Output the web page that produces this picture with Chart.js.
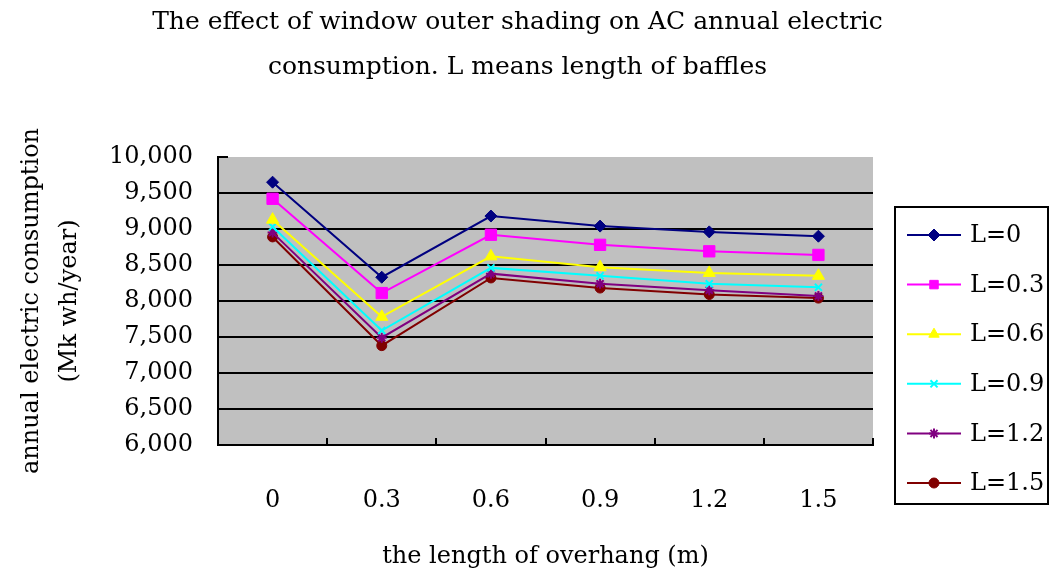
<!DOCTYPE html>
<html>
<head>
<meta charset="utf-8">
<title>Window outer shading vs AC consumption</title>
<script src="https://cdn.jsdelivr.net/npm/chart.js@4/dist/chart.umd.min.js"></script>
<style>
  html, body { margin: 0; padding: 0; background: #fff; }
  #wrap { width: 1049px; height: 575px; }
</style>
</head>
<body>
<div id="wrap"><canvas id="shadingChart" width="1049" height="575"></canvas></div>
<script>
// overhang lengths (m) along the x axis
const overhangs = ['0', '0.3', '0.6', '0.9', '1.2', '1.5'];

// annual consumption per baffle length L
const baffleL0  = [9650, 8330, 9180, 9040, 8960, 8900];
const baffleL03 = [9420, 8110, 8920, 8780, 8690, 8640];
const baffleL06 = [9130, 7780, 8620, 8470, 8390, 8350];
const baffleL09 = [9030, 7590, 8460, 8350, 8240, 8190];
const baffleL12 = [8950, 7490, 8380, 8240, 8150, 8070];
const baffleL15 = [8890, 7380, 8320, 8180, 8090, 8040];

const seriesNames = ['L=0', 'L=0.3', 'L=0.6', 'L=0.9', 'L=1.2', 'L=1.5'];

// y axis range
const yMin = 6000;
const yMax = 10000;
const yStep = 500;

const FONT = 'DejaVu Serif, serif';
const FSIZE = 24;

const styles = [
  { color: '#000080', point: 'rectRot', radius: 6, bw: 1 },
  { color: '#ff00ff', point: 'rect', radius: 8, bw: 1 },
  { color: '#ffff00', point: 'triangle', radius: 7, bw: 1 },
  { color: '#00ffff', point: 'crossRot', radius: 5, bw: 2 },
  { color: '#800080', point: 'star', radius: 5, bw: 2 },
  { color: '#800000', point: 'circle', radius: 5, bw: 1 }
];

const seriesData = [baffleL0, baffleL03, baffleL06, baffleL09, baffleL12, baffleL15];

const datasets = seriesData.map((vals, i) => ({
  label: seriesNames[i],
  data: vals,
  borderColor: styles[i].color,
  backgroundColor: styles[i].color,
  borderWidth: 2,
  tension: 0,
  pointStyle: styles[i].point,
  pointRadius: styles[i].radius,
  pointBorderWidth: styles[i].bw,
  pointBackgroundColor: styles[i].color,
  pointBorderColor: styles[i].color
}));

// grey plot background
const plotBg = {
  id: 'plotBg',
  beforeDraw(chart) {
    const { ctx, chartArea: a } = chart;
    ctx.save();
    ctx.fillStyle = '#c0c0c0';
    ctx.fillRect(a.left, a.top, a.right - a.left, a.bottom - a.top);
    ctx.restore();
  }
};

// short inward tick marks on both axes
const innerTicks = {
  id: 'innerTicks',
  afterDraw(chart) {
    const { ctx, chartArea: a, scales } = chart;
    ctx.save();
    ctx.strokeStyle = '#000';
    ctx.lineWidth = 2;
    ctx.beginPath();
    const n = overhangs.length;
    const step = (a.right - a.left) / n;
    for (let i = 1; i <= n; i++) {
      const x = Math.round(a.left + i * step);
      ctx.moveTo(x, a.bottom);
      ctx.lineTo(x, a.bottom - 7);
    }
    const yTop = scales.y.getPixelForValue(yMax);
    ctx.moveTo(a.left, yTop);
    ctx.lineTo(a.left + 10, yTop);
    ctx.stroke();
    ctx.restore();
  }
};

// boxed legend with line + marker samples
const boxLegend = {
  id: 'boxLegend',
  afterDraw(chart) {
    const { ctx, chartArea: a } = chart;
    const x = a.right + 22;
    const y = 207;
    const w = 1048 - x;
    const h = 297;
    ctx.save();
    ctx.fillStyle = '#fff';
    ctx.fillRect(x, y, w, h);
    ctx.strokeStyle = '#000';
    ctx.lineWidth = 2;
    ctx.strokeRect(x, y, w, h);
    chart.data.datasets.forEach((ds, i) => {
      const cy = y + 28 + i * 49.6;
      ctx.strokeStyle = ds.borderColor;
      ctx.lineWidth = 2;
      ctx.beginPath();
      ctx.moveTo(x + 12, cy);
      ctx.lineTo(x + 66, cy);
      ctx.stroke();
      ctx.fillStyle = ds.pointBackgroundColor;
      ctx.strokeStyle = ds.pointBorderColor;
      ctx.lineWidth = ds.pointBorderWidth;
      Chart.helpers.drawPoint(ctx, {
        pointStyle: ds.pointStyle,
        radius: Math.min(ds.pointRadius, 6),
        rotation: 0,
        borderWidth: ds.pointBorderWidth
      }, x + 39, cy);
      ctx.fillStyle = '#000';
      ctx.font = FSIZE + 'px ' + FONT;
      ctx.textBaseline = 'middle';
      ctx.textAlign = 'left';
      ctx.fillText(ds.label, x + 75, cy + 1);
    });
    ctx.restore();
  }
};

new Chart(document.getElementById('shadingChart'), {
  type: 'line',
  data: { labels: overhangs, datasets },
  plugins: [plotBg, innerTicks, boxLegend],
  options: {
    responsive: false,
    animation: false,
    layout: { padding: { left: 0, right: 14, top: 0, bottom: 0 } },
    plugins: {
      legend: { display: false },
      tooltip: { enabled: false },
      title: {
        display: true,
        text: ['The effect of window outer shading on AC annual electric',
               'consumption. L means length of baffles'],
        color: '#000',
        font: { family: FONT, size: 25, weight: 'normal', lineHeight: 45 / 25 },
        padding: { top: 0, bottom: 67 }
      }
    },
    scales: {
      x: {
        offset: true,
        afterFit(scale) { scale.height = 130; },
        grid: { display: true, drawOnChartArea: false, drawTicks: false, offset: true },
        border: { color: '#000', width: 2 },
        ticks: { color: '#000', padding: 41, font: { family: FONT, size: FSIZE } },
        title: {
          display: true,
          text: 'the length of overhang (m)',
          color: '#000',
          font: { family: FONT, size: FSIZE },
          padding: { top: 0, bottom: 4 }
        }
      },
      y: {
        min: yMin,
        max: yMax,
        afterFit(scale) { scale.width = 218; },
        grid: {
          color: c => (c.tick && c.tick.value === yMax) ? 'rgba(0,0,0,0)' : '#000',
          lineWidth: 2,
          drawTicks: false
        },
        border: { color: '#000', width: 2 },
        ticks: {
          stepSize: yStep,
          autoSkip: false,
          color: '#000',
          padding: 25,
          font: { family: FONT, size: FSIZE },
          callback: v => v.toLocaleString('en-US')
        },
        title: {
          display: true,
          text: ['annual electric consumption', '(Mk wh/year)'],
          color: '#000',
          font: { family: FONT, size: FSIZE, lineHeight: 38 / FSIZE },
          padding: { top: 13, bottom: 0 }
        }
      },
      // empty right-hand axis that keeps room for the legend box
      legendSpace: {
        type: 'linear',
        position: 'right',
        display: true,
        afterFit(scale) { scale.width = 162; },
        grid: { display: false },
        border: { display: false },
        ticks: { display: false }
      }
    }
  }
});
</script>
</body>
</html>
